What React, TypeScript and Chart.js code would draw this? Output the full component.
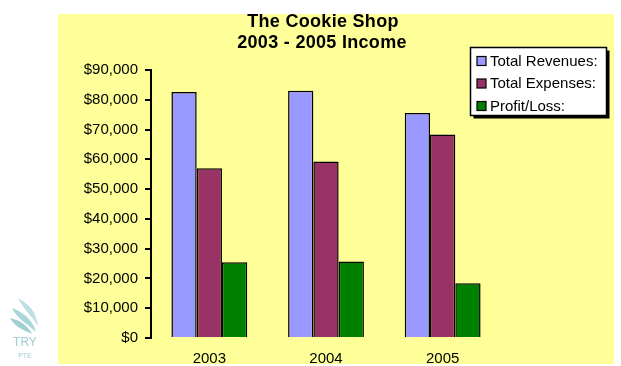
import React, { useEffect, useRef } from "react";
import { Chart, registerables } from "chart.js";

Chart.register(...registerables);

const categories = ["2003", "2004", "2005"];
const seriesNames = ["Total Revenues:", "Total Expenses:", "Profit/Loss:"];
const revenues = [82600, 83000, 75600];
const expenses = [57000, 59300, 68300];
const profit = [25400, 25700, 18400];
const seriesColors = ["#9999FF", "#993366", "#008000"];
const titleLines = ["The Cookie Shop", "2003 - 2005 Income"];
const yMin = 0;
const yMax = 90000;
const yStep = 10000;

const FONT = '"Liberation Sans", Arial, sans-serif';

const backgroundPlugin = {
  id: "bgPlugin",
  beforeDraw(chart: any) {
    const ctx = chart.ctx;
    ctx.save();
    ctx.fillStyle = "#ffffff";
    ctx.fillRect(0, 0, chart.width, chart.height);
    ctx.fillStyle = "#FFFF99";
    ctx.fillRect(58, 14, 556, 350);
    ctx.restore();
  },
};

const titleLegendPlugin = {
  id: "titleLegend",
  afterDraw(chart: any) {
    const ctx = chart.ctx;
    ctx.save();
    ctx.fillStyle = "#000";
    ctx.font = `bold 18px ${FONT}`;
    ctx.textAlign = "center";
    ctx.textBaseline = "middle";
    try { (ctx as any).letterSpacing = "0.3px"; } catch (e) {}
    ctx.fillText(titleLines[0], 323, 22.5);
    ctx.fillText(titleLines[1], 322, 43.5);
    try { (ctx as any).letterSpacing = "0px"; } catch (e) {}

    const lx = 470.5, ly = 47.5, lw = 136, lh = 68;
    ctx.fillStyle = "#000";
    ctx.fillRect(lx + 3, ly + 3, lw, lh);
    ctx.fillStyle = "#fff";
    ctx.fillRect(lx, ly, lw, lh);
    ctx.strokeStyle = "#000";
    ctx.lineWidth = 1.5;
    ctx.strokeRect(lx, ly, lw, lh);

    const rows = [61, 83.5, 106];
    ctx.font = `15px ${FONT}`;
    ctx.textAlign = "left";
    chart.data.datasets.forEach((ds: any, i: number) => {
      const cy = rows[i];
      ctx.fillStyle = ds.backgroundColor;
      ctx.fillRect(477, cy - 4.5, 9, 9);
      ctx.strokeStyle = "#000";
      ctx.lineWidth = 1.2;
      ctx.strokeRect(477, cy - 4.5, 9, 9);
      ctx.fillStyle = "#000";
      ctx.fillText(ds.label, 490, cy + 0.5);
    });
    ctx.restore();
  },
};

function App() {
  const canvasRef = useRef<HTMLCanvasElement | null>(null);

  useEffect(() => {
    if (!canvasRef.current) return;
    const values = [revenues, expenses, profit];
    const chart = new Chart(canvasRef.current, {
      type: "bar",
      data: {
        labels: categories,
        datasets: seriesNames.map((name, i) => ({
          label: name,
          data: values[i],
          backgroundColor: seriesColors[i],
          borderColor: "#000000",
          borderWidth: 1.5,
          categoryPercentage: 0.65,
          barPercentage: 1.0,
        })),
      },
      options: {
        responsive: false,
        animation: false,
        layout: { padding: { left: 0, top: 70, right: 120, bottom: 0 } },
        plugins: {
          legend: { display: false },
          title: { display: false },
          tooltip: { enabled: false },
        },
        scales: {
          x: {
            grid: { display: false },
            border: { display: false },
            ticks: {
              color: "#000",
              font: { family: FONT, size: 15 },
              padding: 4,
            },
            afterFit(scale: any) {
              scale.height = 28;
            },
          },
          y: {
            min: yMin,
            max: yMax,
            grid: {
              display: true,
              drawOnChartArea: false,
              drawTicks: true,
              tickLength: 6,
              color: "#000",
              lineWidth: 2,
            },
            border: { display: true, color: "#000", width: 2 },
            ticks: {
              stepSize: yStep,
              color: "#000",
              font: { family: FONT, size: 15 },
              padding: 7,
              callback: (v: any) => "$" + Number(v).toLocaleString("en-US"),
            },
            afterFit(scale: any) {
              scale.width = 151;
            },
          },
        },
      },
      plugins: [backgroundPlugin, titleLegendPlugin],
    });
    return () => chart.destroy();
  }, []);

  return (
    <div style={{ position: "fixed", left: 0, top: 0, width: 621, height: 366, background: "#fff" }}>
      <canvas ref={canvasRef} width={621} height={366} style={{ position: "absolute", left: 0, top: 0 }} />
      <svg width={40} height={40} style={{ position: "absolute", left: 6, top: 296 }}>
        <path d="M12 2 C22 8, 30 14, 32 30 C26 20, 18 14, 12 2 Z" fill="#bfe0e2" />
        <path d="M6 12 C16 16, 26 22, 30 36 C22 28, 12 24, 6 12 Z" fill="#a9d6d8" />
        <path d="M4 22 C14 24, 22 30, 26 38 C18 34, 10 32, 4 22 Z" fill="#9fcfd0" />
      </svg>
      <div
        style={{
          position: "absolute",
          left: 11,
          top: 336,
          width: 28,
          textAlign: "center",
          fontFamily: FONT,
          color: "#9fcfd0",
          lineHeight: 1,
        }}
      >
        <div style={{ fontSize: 12 }}>TRY</div>
        <div style={{ fontSize: 7, marginTop: 4 }}>PTE</div>
      </div>
    </div>
  );
}

export default App;
